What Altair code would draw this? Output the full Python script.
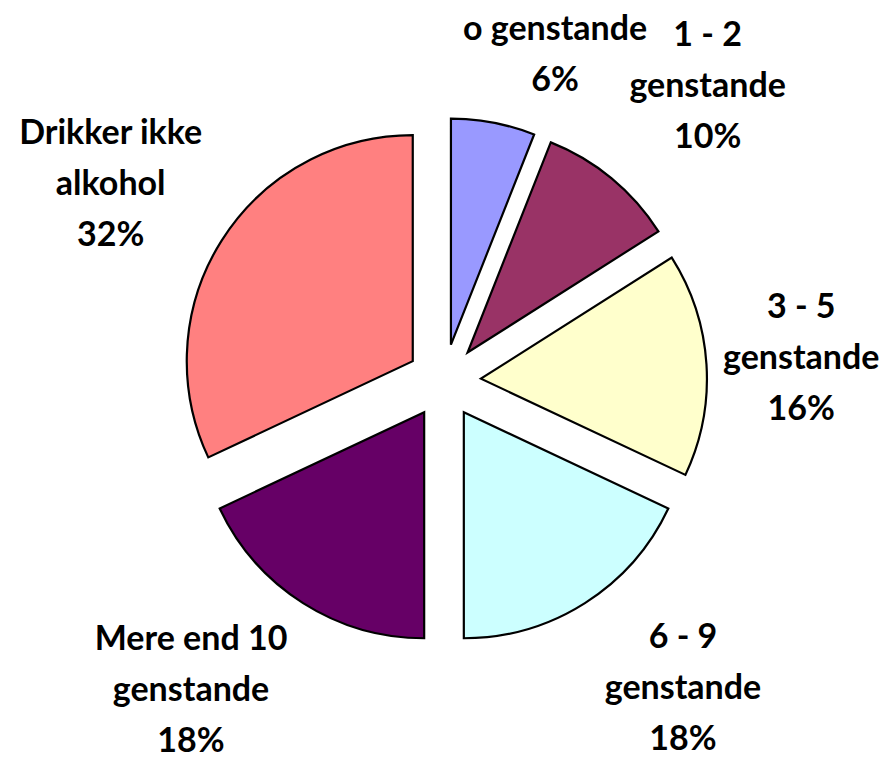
import altair as alt
import pandas as pd

# ---- data ----
categories = ["o genstande", "1 - 2 genstande", "3 - 5 genstande",
              "6 - 9 genstande", "Mere end 10 genstande", "Drikker ikke alkohol"]
label_lines = ["o genstande", "1 - 2\ngenstande", "3 - 5\ngenstande",
               "6 - 9\ngenstande", "Mere end 10\ngenstande", "Drikker ikke\nalkohol"]
shares = [6, 10, 16, 18, 18, 32]
colors = ["#9999FF", "#993366", "#FFFFCC", "#CCFFFF", "#660066", "#FF8080"]

# ---- layout ----
W, H = 879, 749
CX, CY = 436, 373
RADIUS = 226
EXPLODE = 37
LABEL_R = 390
LINE_H = 51
# label nudges (px) relative to the radial anchor, like Excel's label placement
label_dx = [38, 15, -32, 30, -44, -4]
label_dy = [58, 7, 2, -21, -19, 13]

df = pd.DataFrame({
    "order": list(range(len(categories))),
    "category": categories,
    "share": shares,
    "label": [f"{l}\n{s}%" for l, s in zip(label_lines, shares)],
    "ndx": label_dx,
    "ndy": label_dy,
})

base = alt.Chart(df).transform_window(
    cum="sum(share)", sort=[alt.SortField("order")], frame=[None, 0]
).transform_calculate(
    t0="(datum.cum - datum.share) / 100 * 2 * PI",
    t1="datum.cum / 100 * 2 * PI",
    nlines="length(split(datum.label, '\\n'))",
).transform_calculate(
    mid="(datum.t0 + datum.t1) / 2"
).transform_calculate(
    px=f"{CX} + {EXPLODE} * sin(datum.mid)",
    py=f"{CY} - {EXPLODE} * cos(datum.mid)",
    lx=f"{CX} + {LABEL_R} * sin(datum.mid) + datum.ndx",
    ly=f"{CY} - {LABEL_R} * cos(datum.mid) + datum.ndy - (datum.nlines - 1) * {LINE_H} / 2",
)

arcs = base.mark_arc(radius=RADIUS, stroke="black", strokeWidth=2.2).encode(
    theta=alt.Theta("t0:Q", scale=None, stack=None),
    theta2=alt.Theta2("t1:Q"),
    x=alt.X("px:Q", scale=None),
    y=alt.Y("py:Q", scale=None),
    color=alt.Color("category:N", scale=alt.Scale(domain=categories, range=colors), legend=None),
)

labels = base.mark_text(
    font="Lato", fontWeight="bold", fontSize=34, lineHeight=LINE_H,
    lineBreak="\n", align="center", baseline="middle", color="black",
).encode(
    x=alt.X("lx:Q", scale=None),
    y=alt.Y("ly:Q", scale=None),
    text="label:N",
)

chart = alt.layer(arcs, labels).properties(
    width=W, height=H, padding=0, autosize=alt.AutoSizeParams(type="none")
).configure_view(stroke=None)

chart.save("out.html", embed_options={"renderer": "svg", "actions": False})
